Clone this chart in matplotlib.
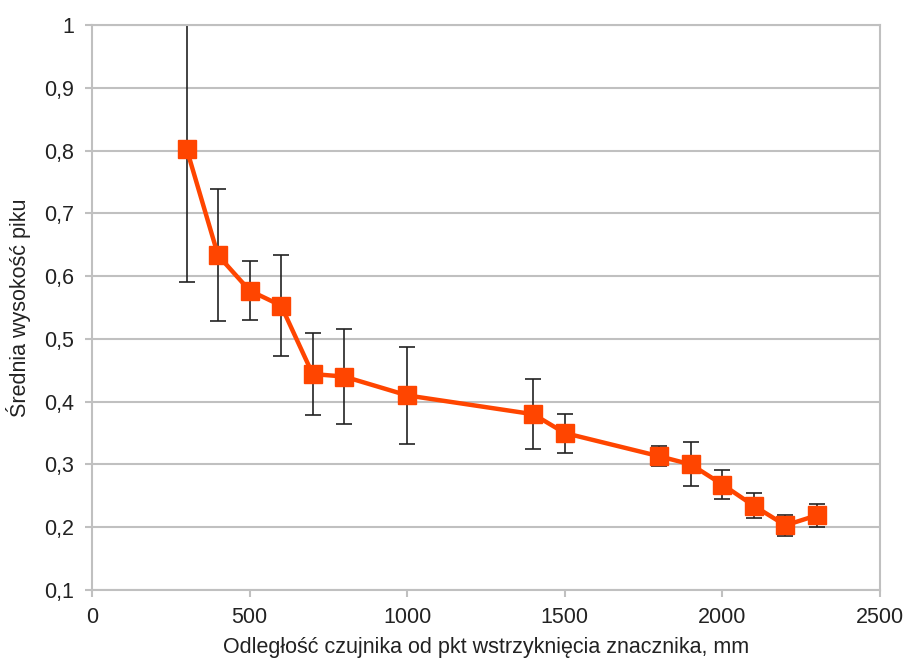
import matplotlib
matplotlib.use("Agg")
import matplotlib.pyplot as plt
from matplotlib.ticker import FuncFormatter, MultipleLocator

plt.rcParams['font.family'] = ['Liberation Sans', 'DejaVu Sans']

# odległość czujnika [mm], średnia wysokość piku i odchylenie
distance = [300, 400, 500, 600, 700, 800, 1000, 1400, 1500, 1800, 1900, 2000, 2100, 2200, 2300]
peak = [0.803, 0.633, 0.577, 0.553, 0.444, 0.440, 0.410, 0.380, 0.350, 0.313, 0.300, 0.268, 0.234, 0.203, 0.219]
err = [0.212, 0.105, 0.047, 0.080, 0.065, 0.075, 0.077, 0.056, 0.031, 0.016, 0.035, 0.023, 0.020, 0.017, 0.018]

ORANGE = "#ff4500"
GRID = "#c0c0c0"

fig = plt.figure(figsize=(9.06, 6.64), dpi=100)
ax = fig.add_axes([92 / 906, 1 - 590 / 664, (880 - 92) / 906, (590 - 25) / 664])

ax.errorbar(distance, peak, yerr=err, fmt="none", ecolor="#222222",
            elinewidth=1.2, capsize=5.5, capthick=1.2, zorder=2)
ax.plot(distance, peak, color=ORANGE, lw=3.2, marker="s", markersize=13,
        markerfacecolor=ORANGE, markeredgecolor=ORANGE, zorder=3)

ax.set_xlim(0, 2500)
ax.set_ylim(0.1, 1.0)
ax.xaxis.set_major_locator(MultipleLocator(500))
ax.yaxis.set_major_locator(MultipleLocator(0.1))
ax.yaxis.set_major_formatter(FuncFormatter(lambda v, p: f"{v:.1f}".replace(".", ",").replace("1,0", "1")))

ax.grid(axis="y", color=GRID, lw=1.5)
ax.set_axisbelow(True)
for s in ax.spines.values():
    s.set_color(GRID)
    s.set_linewidth(1.5)

ax.tick_params(axis="both", colors=GRID, labelcolor="#222222", labelsize=15.5,
               length=5, width=1.5, direction="out")
ax.tick_params(axis="y", pad=8)
ax.tick_params(axis="x", pad=7)

ax.set_xlabel("Odległość czujnika od pkt wstrzyknięcia znacznika, mm",
              fontsize=15.5, color="#222222", labelpad=7)
ax.set_ylabel("Średnia wysokość piku", fontsize=15.5, color="#222222", labelpad=9)

fig.savefig("out.png", dpi=100, facecolor="white")
